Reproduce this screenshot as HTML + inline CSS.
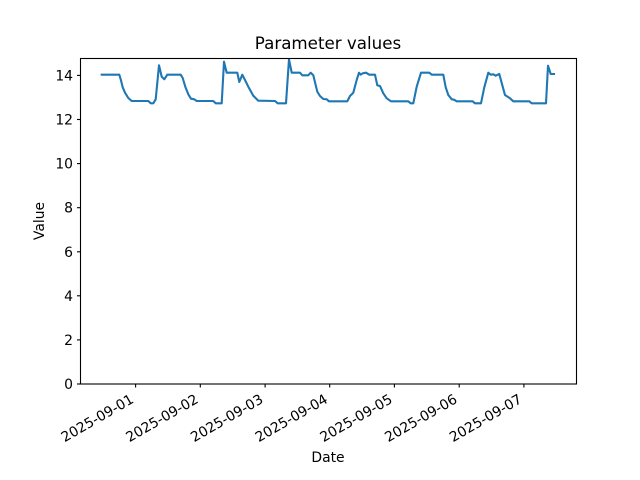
<!DOCTYPE html>
<html><head><meta charset="utf-8"><style>
html,body{margin:0;padding:0;background:#fff;}
svg{display:block;}
text{font-family:"DejaVu Sans","Liberation Sans",sans-serif;fill:#000;}
</style></head><body>
<svg width="640" height="480" viewBox="0 0 640 480" xmlns="http://www.w3.org/2000/svg">
<rect x="0" y="0" width="640" height="480" fill="#fff"/>
<text x="328" y="49" font-size="16.7" text-anchor="middle">Parameter values</text>
<polyline fill="none" stroke="#1f77b4" stroke-width="2.1" stroke-linejoin="round" stroke-linecap="square" points="
101.7,74.7 119.3,74.7 120.7,79.3 122.7,87.3 125,92.7 128.3,98 131.7,101 148.3,101 150.7,103.3 153.3,103.3 155.7,99.3 159,65.3 161.7,76.7 164.3,79.3 167.3,74.7 180.7,74.7 182.7,78 185.3,86.7 188.3,94.3 191,98.7 194.3,99.3 196.7,101 213.3,101 215.7,103.3 221.7,103.3 224,61.7 226.7,72.7 237.3,72.7 239.3,82 242.3,74.7 245,80 248.3,86.7 253.3,95.7 258.3,100.7 275,101 277.7,103.3 286,103.3 289,59.3 291.7,72.7 300,72.7 302.3,75.3 308.3,75.3 310.7,72.7 313.3,75.3 317.3,91.7 320,96 323.3,99 326.7,99.3 329,101.3 347.3,101.3 350,96 353.3,92.7 356.7,80 359,72.7 360.7,74.7 362.7,73.3 366,72.7 369.3,74.7 375,74.7 377.3,85.3 380,86 383.3,93.3 386.7,98.3 391,101.3 408.3,101.3 410.7,103.3 413.3,103.3 416.7,86.7 421,72.7 429.3,72.7 431.7,74.7 443.3,74.7 445.7,87.3 448.3,95 451.7,99.3 454,99.7 456.7,101.3 472.7,101.3 475,103.3 481,103.3 484.3,87.3 488.3,72.7 490.7,74.7 493.3,74.3 495.7,75.7 499.3,74 502.7,86.7 505,95 510,98.3 513.3,101.3 529.3,101.3 531.7,103.3 546,103.3 548,65.7 550.7,74 554,74"/>
<rect x="80.5" y="58.5" width="496" height="325.5" fill="none" stroke="#000" stroke-width="1.1"/>
<g stroke="#000" stroke-width="1.1">
<line x1="80.5" y1="384" x2="77" y2="384"/>
<line x1="80.5" y1="339.9" x2="77" y2="339.9"/>
<line x1="80.5" y1="295.8" x2="77" y2="295.8"/>
<line x1="80.5" y1="251.8" x2="77" y2="251.8"/>
<line x1="80.5" y1="207.7" x2="77" y2="207.7"/>
<line x1="80.5" y1="163.6" x2="77" y2="163.6"/>
<line x1="80.5" y1="119.5" x2="77" y2="119.5"/>
<line x1="80.5" y1="75.4" x2="77" y2="75.4"/>
<line x1="135.6" y1="384" x2="135.6" y2="387.5"/>
<line x1="200.3" y1="384" x2="200.3" y2="387.5"/>
<line x1="265.1" y1="384" x2="265.1" y2="387.5"/>
<line x1="329.7" y1="384" x2="329.7" y2="387.5"/>
<line x1="394.4" y1="384" x2="394.4" y2="387.5"/>
<line x1="459.2" y1="384" x2="459.2" y2="387.5"/>
<line x1="523.9" y1="384" x2="523.9" y2="387.5"/>
</g>
<g font-size="13.9" text-anchor="end">
<text x="73" y="389">0</text>
<text x="73" y="344.9">2</text>
<text x="73" y="300.8">4</text>
<text x="73" y="256.8">6</text>
<text x="73" y="212.7">8</text>
<text x="73" y="168.6">10</text>
<text x="73" y="124.5">12</text>
<text x="73" y="80.4">14</text>
</g>
<g font-size="13.9" text-anchor="end">
<text transform="translate(134.6,402) rotate(-30)">2025-09-01</text>
<text transform="translate(199.3,402) rotate(-30)">2025-09-02</text>
<text transform="translate(264.1,402) rotate(-30)">2025-09-03</text>
<text transform="translate(328.7,402) rotate(-30)">2025-09-04</text>
<text transform="translate(393.4,402) rotate(-30)">2025-09-05</text>
<text transform="translate(458.2,402) rotate(-30)">2025-09-06</text>
<text transform="translate(522.9,402) rotate(-30)">2025-09-07</text>
</g>
<text x="328" y="462" font-size="13.9" text-anchor="middle">Date</text>
<text transform="translate(44,221) rotate(-90)" font-size="13.9" text-anchor="middle">Value</text>
</svg>
</body></html>
